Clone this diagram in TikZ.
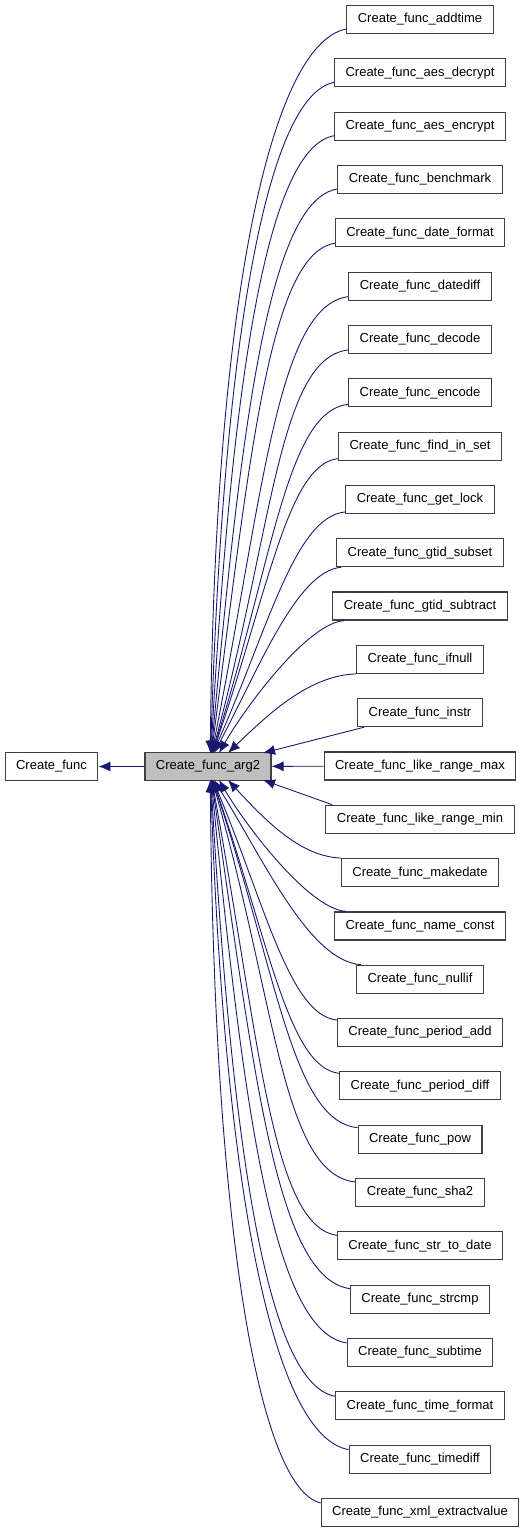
\documentclass[tikz,border=0pt]{standalone}
\usepackage{fontspec}
\setmainfont{Liberation Sans}
\usetikzlibrary{arrows.meta,calc}
\definecolor{edgeblue}{HTML}{191970}
\definecolor{boxgray}{HTML}{BFBFBF}
\tikzset{
  fn/.style={draw=black!75, line width=1.1pt, minimum height=28pt, inner xsep=11pt, inner ysep=0pt, font=\fontsize{13}{15}\selectfont},
  edge/.style={draw=edgeblue, line width=0.9pt, -{Latex[length=12pt,width=10pt]}}
}
\begin{document}
\begin{tikzpicture}[x=1pt,y=-1pt]
        \useasboundingbox (0,0) rectangle (525,1533);
        \node[fn] (CF) at (51.5,766.5) {Create\_func};
        \node[fn,fill=boxgray] (A2) at (208,766.5) {Create\_func\_arg2};
        \foreach \name [count=\i] in {addtime,aes\_decrypt,aes\_encrypt,benchmark,date\_format,datediff,decode,encode,find\_in\_set,get\_lock,gtid\_subset,gtid\_subtract,ifnull,instr,like\_range\_max,like\_range\_min,makedate,name\_const,nullif,period\_add,period\_diff,pow,sha2,str\_to\_date,strcmp,subtime,time\_format,timediff,xml\_extractvalue}
            \node[fn] (F\i) at (420,{19.5+(\i-1)*53.32}) {Create\_func\_\name};

        \draw[edge] (A2) -- (CF);
        \draw[edge] (F15) -- (A2);
        \draw[edge] ($(F14.south west)+(7,0)$) -- (263,753);
        \draw[edge] ($(F16.north west)+(7,0)$) -- (263,780);
        \foreach \k/\a/\f/\b/\sx/\sy/\tx in {2/.35/.35/.45/0/0/228, 3/.30/.20/.67/12/0/219, 4/.35/.35/.55/5/0/214,
            5/.38/.42/.48/0/2/213, 6/.40/.45/.44/0/2/212.7, 7/.45/.45/.44/0/3/212.4, 8/.51/.45/.44/0/4/212.1,
            9/.52/.38/.43/0/4/211.8, 10/.53/.31/.42/0/4/211.5, 11/.54/.24/.41/0/5/211.2, 12/.55/.17/.40/0/5/210.9,
            13/.55/.10/.39/0/5/210.6, 14/.56/.03/.38/0/5/210.3} {
            \pgfmathtruncatemacro\up{15-\k}
            \pgfmathtruncatemacro\dn{15+\k}
            \draw[edge] let \p1=($(F\up.south west)+(\sx,-\sy)$), \p2=(\tx,753) in
                (\p1) .. controls ({\x1-\a*(\x1-\x2)},{\y1+0.02*(\y2-\y1)})
                and ({\x2+\f*(\x1-\x2)},{\y1+\b*(\y2-\y1)}) .. (\p2);
            \draw[edge] let \p1=($(F\dn.north west)+(\sx,\sy)$), \p2=(\tx,780) in
                (\p1) .. controls ({\x1-\a*(\x1-\x2)},{\y1+0.02*(\y2-\y1)})
                and ({\x2+\f*(\x1-\x2)},{\y1+\b*(\y2-\y1)}) .. (\p2);
        }
\end{tikzpicture}
\end{document}
